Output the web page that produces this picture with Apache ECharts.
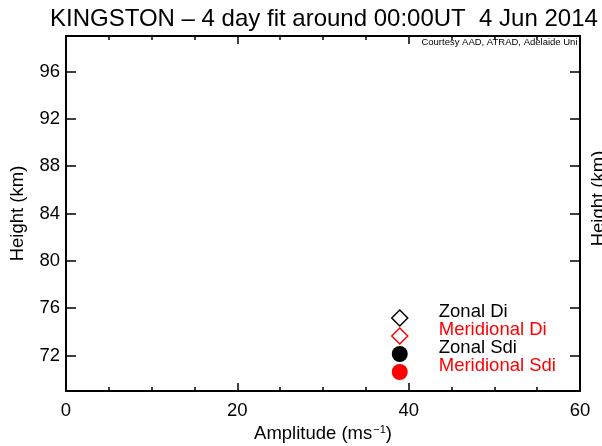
<!DOCTYPE html>
<html><head><meta charset="utf-8">
<script src="https://cdn.jsdelivr.net/npm/echarts@6/dist/echarts.min.js"></script>
<style>html,body{margin:0;padding:0;background:#fff}#c{width:602px;height:446px}</style>
</head><body><div id="c"></div>
<script>
// ---- text ----
const titleText = 'KINGSTON \u2013 4 day fit around 00:00UT  4 Jun 2014';
const creditText = 'Courtesy AAD, ATRAD, Adelaide Uni';
const xAxisName = 'Amplitude (ms{sup|\u22121})';
const yAxisName = 'Height (km)';
// ---- series ----
const seriesNames = ['Zonal Di', 'Meridional Di', 'Zonal Sdi', 'Meridional Sdi'];
const seriesColors = ['#000000', '#ff0000', '#000000', '#ff0000'];
const seriesSymbols = ['diamond', 'diamond', 'circle', 'circle'];
const seriesFilled = [false, false, true, true];
// [amplitude, height] pairs - the reference shows no plotted points
const zonalDi = [];
const meridionalDi = [];
const zonalSdi = [];
const meridionalSdi = [];
const seriesData = [zonalDi, meridionalDi, zonalSdi, meridionalSdi];
// ---- axes ----
const xMin = 0, xMax = 60, xInterval = 20;
const yMin = 69, yMax = 99;
const yTicks = [72, 76, 80, 84, 88, 92, 96];

const FONT = "'Liberation Sans', Arial, sans-serif";
const chart = echarts.init(document.getElementById('c'));

function axisLine() { return { show: true, onZero: false, lineStyle: { color: '#000', width: 2 } }; }

function xAx(pos, labels) {
  return {
    type: 'value', position: pos, min: xMin, max: xMax, interval: xInterval,
    axisLine: axisLine(),
    axisTick: { show: true, inside: true, length: 8, lineStyle: { color: '#000', width: 1.5 } },
    minorTick: { show: true, splitNumber: 4, length: 4, lineStyle: { color: '#000', width: 1.5 } },
    splitLine: { show: false }, minorSplitLine: { show: false },
    axisLabel: { show: labels, margin: 10, color: '#000', fontFamily: FONT, fontSize: 18.5 },
    name: labels ? xAxisName : '', nameLocation: 'middle', nameGap: 23,
    nameTextStyle: { color: '#000', fontFamily: FONT, fontSize: 18.5,
      rich: { sup: { fontSize: 11, fontFamily: FONT, color: '#000', verticalAlign: 'top', padding: [0, 0, 4, 1] } } }
  };
}
function yAx(pos, labels) {
  return {
    type: 'value', position: pos, min: yMin, max: yMax,
    axisLine: axisLine(),
    axisTick: { show: true, inside: true, length: 10, customValues: yTicks, lineStyle: { color: '#000', width: 1.5 } },
    splitLine: { show: false },
    axisLabel: { show: labels, customValues: yTicks, margin: 6, color: '#000', fontFamily: FONT, fontSize: 18.5 },
    name: yAxisName, nameLocation: 'middle', nameRotate: 90, nameGap: labels ? 39 : 9,
    nameTextStyle: { color: '#000', fontFamily: FONT, fontSize: 18.5, padding: labels ? 0 : [0, 0, 0, 30] }
  };
}

chart.setOption({
  animation: false,
  backgroundColor: '#fff',
  title: [
    { text: titleText, left: 50, top: 7, padding: 0,
      textStyle: { color: '#000', fontFamily: FONT, fontSize: 24, fontWeight: 'normal' } },
    { text: creditText, right: 24.5, top: 37.5, padding: 0,
      textStyle: { color: '#000', fontFamily: FONT, fontSize: 9.5, fontWeight: 'normal' } }
  ],
  grid: { left: 66, right: 22, top: 36, bottom: 55, containLabel: false, outerBoundsMode: 'none' },
  xAxis: [xAx('bottom', true), xAx('top', false)],
  yAxis: [yAx('left', true), yAx('right', false)],
  legend: {
    orient: 'vertical', left: 391, top: 302.5, padding: 0, itemGap: -13,
    itemWidth: 16, itemHeight: 16, selectedMode: false,
    formatter: '{t|{name}}',
    textStyle: { fontFamily: FONT, fontSize: 18.5, padding: [0, 0, 0, 26],
      rich: { t: { fontFamily: FONT, fontSize: 18.5, lineHeight: 18, padding: [0, 0, 12, 0] } } },
    data: seriesNames.map((n, i) => ({
      name: n, icon: seriesSymbols[i],
      itemStyle: seriesFilled[i]
        ? { color: seriesColors[i], borderWidth: 0, opacity: 1 }
        : { color: 'rgba(0,0,0,0)', borderColor: seriesColors[i], borderWidth: 1.5, opacity: 1 },
      textStyle: { color: seriesColors[i] }
    }))
  },
  series: seriesNames.map((n, i) => ({
    name: n, type: 'scatter', xAxisIndex: 0, yAxisIndex: 0,
    symbol: seriesSymbols[i], symbolSize: 14,
    itemStyle: seriesFilled[i]
      ? { color: seriesColors[i], opacity: 1 }
      : { color: 'rgba(0,0,0,0)', borderColor: seriesColors[i], borderWidth: 1.5, opacity: 1 },
    data: seriesData[i]
  }))
});
</script></body></html>
